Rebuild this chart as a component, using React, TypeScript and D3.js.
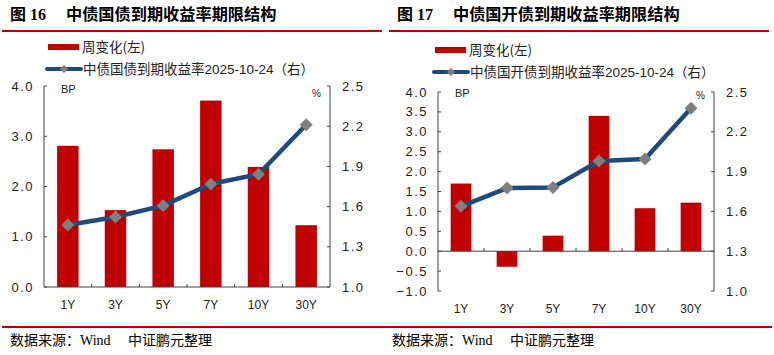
import React from "react";
import * as d3 from "d3";

const categories = ["1Y", "3Y", "5Y", "7Y", "10Y", "30Y"];

const govChange = [2.81, 1.53, 2.74, 3.71, 2.39, 1.23];
const govYield = [1.463, 1.522, 1.607, 1.769, 1.841, 2.211];

const cdbChange = [1.7, -0.39, 0.39, 3.4, 1.08, 1.22];
const cdbYield = [1.638, 1.776, 1.781, 1.98, 1.995, 2.377];

const leftTicksA = [0, 1, 2, 3, 4];
const leftTicksB = [-1, -0.5, 0, 0.5, 1, 1.5, 2, 2.5, 3, 3.5, 4];
const rightTicks = [1.0, 1.3, 1.6, 1.9, 2.2, 2.5];

const titles = ["中债国债到期收益率期限结构", "中债国开债到期收益率期限结构"];
const figNums = ["图 16", "图 17"];
const legendBar = "周变化(左)";
const legendLines = ["中债国债到期收益率2025-10-24（右）", "中债国开债到期收益率2025-10-24（右）"];
const sourceA = "数据来源：Wind";
const sourceB = "中证鹏元整理";

const RED = "#C00000";
const BLUE = "#1F4A7C";
const GRAY = "#7F7F7F";
const AXIS = "#404040";
const FONT = "'Liberation Sans', 'Noto Sans CJK SC', sans-serif";
const CJK = "'Noto Sans CJK SC', sans-serif";
const SERIF = "'Liberation Serif', 'Noto Sans CJK SC', serif";

type ChartProps = {
  ox: number;
  x0: number;
  x1: number;
  yTop: number;
  yBot: number;
  leftDomain: [number, number];
  leftTicks: number[];
  change: number[];
  yields: number[];
  legendY: number;
  legendLine: string;
  legendSize: number;
  bpY: number;
  pctY: number;
  pctX: number;
  fig: string;
  title: string;
};

function Chart(p: ChartProps) {
  const x = d3.scaleBand<string>().domain(categories).range([p.x0, p.x1]).padding(0);
  const y = d3.scaleLinear().domain(p.leftDomain).range([p.yBot, p.yTop]);
  const y2 = d3.scaleLinear().domain([1.0, 2.5]).range([p.yBot, p.yTop]);
  const bw = x.bandwidth() * 0.45;
  const fmt = d3.format(".1f");
  const line = d3
    .line<number>()
    .x((_, i) => (x(categories[i]) as number) + x.bandwidth() / 2)
    .y((d) => y2(d));
  const zeroY = y(0);
  const boundaries = categories.slice(1).map((c) => x(c) as number);
  const diamond = (cx: number, cy: number, r: number) =>
    `M${cx},${cy - r}L${cx + r},${cy}L${cx},${cy + r}L${cx - r},${cy}Z`;
  const lx = p.ox + 48;
  return (
    <g>
      {/* title */}
      <text x={p.ox + 10} y={20} fontFamily={SERIF} fontWeight="bold" fontSize={16} fill="#000">
        {p.fig}
      </text>
      <text x={p.ox + 66} y={20} fontFamily={CJK} fontWeight="bold" fontSize={16.2} fill="#000">
        {p.title}
      </text>
      <line x1={p.ox + 2} x2={p.ox + 382} y1={31} y2={31} stroke={RED} strokeWidth={2} />

      {/* legend */}
      <rect x={lx} y={p.legendY - 3} width={31} height={6} fill={RED} />
      <text x={lx + 34} y={p.legendY} dy="0.35em" fontFamily={CJK} fontSize={13.5} fill="#222">
        {legendBar}
      </text>
      <line x1={lx - 1} x2={lx + 33} y1={p.legendY + 22} y2={p.legendY + 22} stroke={BLUE} strokeWidth={4} strokeLinecap="round" />
      <path d={diamond(lx + 16, p.legendY + 22, 4)} fill={GRAY} />
      <text x={lx + 35} y={p.legendY + 22} dy="0.35em" fontFamily={FONT} fontSize={p.legendSize} fill="#222">
        {p.legendLine}
      </text>

      {/* bars */}
      {p.change.map((v, i) => {
        const cx = (x(categories[i]) as number) + x.bandwidth() / 2;
        const top = Math.min(y(v), zeroY);
        const h = Math.abs(y(v) - zeroY);
        return <rect key={i} x={cx - bw / 2} y={top} width={bw} height={h} fill={RED} />;
      })}

      {/* x axis */}
      <line x1={p.x0} x2={p.x1} y1={zeroY} y2={zeroY} stroke={AXIS} strokeWidth={1} />
      {boundaries.map((bx, i) => (
        <line key={i} x1={bx} x2={bx} y1={zeroY} y2={zeroY - 3} stroke={AXIS} strokeWidth={1} />
      ))}
      {categories.map((c) => (
        <text key={c} x={(x(c) as number) + x.bandwidth() / 2} y={p.yBot + 22} textAnchor="middle" fontFamily={FONT} fontSize={12} fill="#222">
          {c}
        </text>
      ))}

      {/* left axis */}
      <line x1={p.x0} x2={p.x0} y1={p.yTop} y2={p.yBot} stroke={AXIS} strokeWidth={1} />
      {p.leftTicks.map((t) => (
        <g key={t}>
          <line x1={p.x0} x2={p.x0 + 3} y1={y(t)} y2={y(t)} stroke={AXIS} strokeWidth={1} />
          <text x={p.x0 - 10} y={y(t)} dy="0.35em" textAnchor="end" fontFamily={FONT} fontSize={13} letterSpacing={1.5} fill="#222">
            {fmt(t)}
          </text>
        </g>
      ))}
      <text x={p.x0 + 17} y={p.bpY} dy="0.35em" fontFamily={FONT} fontSize={11} fill="#222">
        BP
      </text>

      {/* right axis */}
      <line x1={p.x1} x2={p.x1} y1={p.yTop} y2={p.yBot} stroke={AXIS} strokeWidth={1} />
      {rightTicks.map((t) => (
        <g key={t}>
          <line x1={p.x1} x2={p.x1 - 3} y1={y2(t)} y2={y2(t)} stroke={AXIS} strokeWidth={1} />
          <text x={p.x1 + 12} y={y2(t)} dy="0.35em" textAnchor="start" fontFamily={FONT} fontSize={13} letterSpacing={1.5} fill="#222">
            {fmt(t)}
          </text>
        </g>
      ))}
      <text x={p.pctX} y={p.pctY} dy="0.35em" fontFamily={FONT} fontSize={10} fill="#222">
        %
      </text>

      {/* line */}
      <path d={line(p.yields) as string} fill="none" stroke={BLUE} strokeWidth={4.5} strokeLinejoin="round" />
      {p.yields.map((v, i) => {
        const cx = (x(categories[i]) as number) + x.bandwidth() / 2;
        return <path key={i} d={diamond(cx, y2(v), 6.5)} fill={GRAY} />;
      })}
    </g>
  );
}

export default function App() {
  return (
    <svg width={774} height={355} style={{ position: "absolute", left: 0, top: 0, background: "#fff" }}>
      <rect width={774} height={355} fill="#fff" />
      <Chart
        ox={0}
        x0={44}
        x1={330}
        yTop={86}
        yBot={287}
        leftDomain={[0, 4]}
        leftTicks={leftTicksA}
        change={govChange}
        yields={govYield}
        legendY={47}
        legendLine={legendLines[0]}
        legendSize={13.5}
        bpY={89}
        pctY={93}
        pctX={312}
        fig={figNums[0]}
        title={titles[0]}
      />
      <Chart
        ox={387}
        x0={438}
        x1={714}
        yTop={92}
        yBot={291}
        leftDomain={[-1, 4]}
        leftTicks={leftTicksB}
        change={cdbChange}
        yields={cdbYield}
        legendY={50}
        legendLine={legendLines[1]}
        legendSize={13.5}
        bpY={93}
        pctY={95}
        pctX={696}
        fig={figNums[1]}
        title={titles[1]}
      />
      <line x1={2} x2={772} y1={327} y2={327} stroke={RED} strokeWidth={2} />
      {[0, 1].map((k) => (
        <g key={k}>
          <text x={k === 0 ? 10 : 392} y={345} fontFamily={SERIF} fontSize={14} fill="#000">
            {sourceA}
          </text>
          <text x={k === 0 ? 128 : 510} y={345} fontFamily={SERIF} fontSize={14} fill="#000">
            {sourceB}
          </text>
        </g>
      ))}
    </svg>
  );
}
